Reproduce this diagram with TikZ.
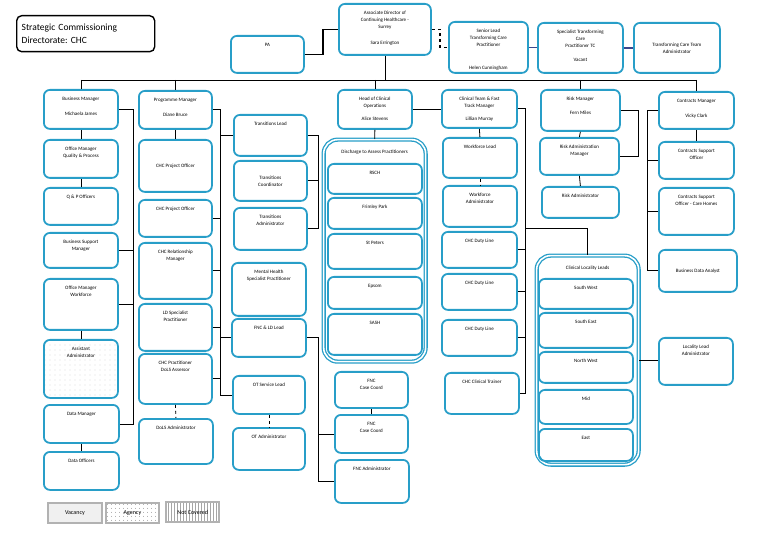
\documentclass[tikz,border=0pt]{standalone}
\usepackage{fontspec}
\setmainfont{Carlito}
\frenchspacing
\usetikzlibrary{patterns.meta, calc}
\definecolor{boxblue}{RGB}{40,158,200}
\definecolor{linkblue}{RGB}{60,70,140}

\begin{document}
\begin{tikzpicture}[x=1pt, y=-1pt,
    txt/.style={font=\fontsize{5}{7}\selectfont, align=center, inner sep=1pt},
    post/.style={draw=boxblue, line width=1.8pt, rounded corners=6pt, anchor=north west, txt},
    lab/.style={label={[txt, anchor=north, yshift=-7pt]north:#1}},
    hlab/.style={label={[txt, anchor=north, yshift=-10pt]north:#1}},
    group/.style={post, line width=1.3pt, double=white, double distance=1.6pt, rounded corners=14pt},
    agency/.style={pattern={Dots[distance=5pt, radius=0.4pt]}, pattern color=gray!80},
    link/.style={line width=0.8pt},
    key/.style={draw=gray!60, line width=1.8pt, anchor=north west, font=\fontsize{6}{7}\selectfont}]
    \useasboundingbox (0,0) rectangle (780,540);

    % Title
    \node[draw, line width=1.4pt, rounded corners=5pt, anchor=north west, minimum width=138pt, minimum height=36pt,
          align=left, text width=128pt, font=\fontsize{9.5}{13}\selectfont] (scd) at (16,15) {Strategic Commissioning\\Directorate: CHC};

    % Top row
    \node[post, minimum width=92pt, minimum height=51pt, lab={Associate Director of\\Continuing Healthcare -\\Surrey\\[9pt]Sara Errington}] (adir) at (338,3) {};
    \node[post, minimum width=73pt, minimum height=37pt, lab={PA}] (pa) at (230,35) {};
    \node[post, minimum width=79pt, minimum height=51pt, lab={Senior Lead\\Transforming Care\\Practitioner\\[16pt]Helen Cunningham}] (slead) at (448,21) {};
    \node[post, minimum width=85pt, minimum height=50pt, lab={Specialist Transforming\\Care\\Practitioner TC\\[7pt]Vacant}] (stcp) at (537,22) {};
    \node[post, minimum width=86pt, minimum height=50pt] (tcadmin) at (633,22) {Transforming Care Team\\Administrator};

    % Business column
    \node[post, minimum width=74pt, minimum height=39pt, lab={Business Manager\\[8pt]Michaela James}] (bman) at (43,89) {};
    \node[post, minimum width=74pt, minimum height=38pt, lab={Office Manager\\Quality \& Process}] (omqp) at (43,139) {};
    \node[post, minimum width=74pt, minimum height=37pt, lab={Q \& P Officers}] (qpo) at (43,187) {};
    \node[post, minimum width=74pt, minimum height=35pt, lab={Business Support\\Manager}] (bsm) at (43,232) {};
    \node[post, minimum width=74pt, minimum height=51pt, lab={Office Manager\\Workforce}] (omwf) at (43,278) {};
    \node[post, agency, minimum width=74pt, minimum height=58pt, lab={Assistant\\Administrator}] (asadmin) at (43,339) {};
    \node[post, minimum width=75pt, minimum height=38pt, lab={Data Manager}] (dman) at (43,404) {};
    \node[post, minimum width=75pt, minimum height=38pt, lab={Data Officers}] (doff) at (43,451) {};

    % Programme column
    \node[post, minimum width=73pt, minimum height=38pt, lab={Programme Manager\\[8pt]Diane Bruce}] (pman) at (138,90) {};
    \node[post, minimum width=73pt, minimum height=52pt] (cpo1) at (138,139) {CHC Project Officer};
    \node[post, minimum width=73pt, minimum height=37pt, lab={CHC Project Officer}] (cpo2) at (138,199) {};
    \node[post, minimum width=73pt, minimum height=56pt, lab={CHC Relationship\\Manager}] (crm) at (138,242) {};
    \node[post, minimum width=73pt, minimum height=47pt, lab={LD Specialist\\Practitioner}] (ldsp) at (138,303) {};
    \node[post, minimum width=73pt, minimum height=50pt, lab={CHC Practitioner\\DoLS Assessor}] (dolsa) at (138,353) {};
    \node[post, minimum width=74pt, minimum height=45pt, lab={DoLS Administrator}] (dolsadm) at (138,418) {};

    % Transitions column
    \node[post, minimum width=73pt, minimum height=41pt, lab={Transitions Lead}] (tlead) at (233,114) {};
    \node[post, minimum width=73pt, minimum height=40pt] (tcoord) at (233,160) {Transitions\\Coordinator};
    \node[post, minimum width=73pt, minimum height=42pt, lab={Transitions\\Administrator}] (tadmin) at (233,207) {};
    \node[post, minimum width=74pt, minimum height=53pt, lab={Mental Health\\Specialist Practitioner}] (mhsp) at (231,262) {};
    \node[post, minimum width=74pt, minimum height=38pt, lab={FNC \& LD Lead}] (fnclead) at (231,318) {};
    \node[post, minimum width=72pt, minimum height=38pt, lab={OT Service Lead}] (otlead) at (232,375) {};
    \node[post, minimum width=72pt, minimum height=42pt, lab={OT Administrator}] (otadmin) at (232,427) {};

    % Operations column
    \node[post, minimum width=74pt, minimum height=39pt, lab={Head of Clinical\\Operations\\[6pt]Alice Stevens}] (hoo) at (337,89) {};
    \node[group, minimum width=102pt, minimum height=222pt, hlab={Discharge to Assess Practitioners}] (dta) at (323,139) {};
    \node[post, minimum width=94pt, minimum height=30pt, lab={RSCH}] (rsch) at (327,163) {};
    \node[post, minimum width=94pt, minimum height=31pt, lab={Frimley Park}] (fpark) at (327,197) {};
    \node[post, minimum width=94pt, minimum height=35pt, lab={St Peters}] (stp) at (327,233) {};
    \node[post, minimum width=94pt, minimum height=32pt, lab={Epsom}] (epsom) at (327,276) {};
    \node[post, minimum width=94pt, minimum height=41pt, lab={SASH}] (sash) at (327,313) {};
    \node[post, minimum width=73pt, minimum height=36pt, lab={FNC\\Case Coord}] (fcc1) at (334,371) {};
    \node[post, minimum width=73pt, minimum height=38pt, lab={FNC\\Case Coord}] (fcc2) at (334,414) {};
    \node[post, minimum width=74pt, minimum height=43pt, lab={FNC Administrator}] (fncadm) at (334,459) {};

    % Clinical team column
    \node[post, minimum width=75pt, minimum height=38pt, lab={Clinical Team \& Fast\\Track Manager\\[6pt]Lillian Murray}] (ctm) at (441,89) {};
    \node[post, minimum width=74pt, minimum height=40pt, lab={Workforce Lead}] (wfl) at (442,137) {};
    \node[post, minimum width=74pt, minimum height=41pt, lab={Workforce\\Administrator}] (wfa) at (442,185) {};
    \node[post, minimum width=75pt, minimum height=36pt, lab={CHC Duty Line}] (duty1) at (441,231) {};
    \node[post, minimum width=75pt, minimum height=36pt, lab={CHC Duty Line}] (duty2) at (441,273) {};
    \node[post, minimum width=75pt, minimum height=36pt, lab={CHC Duty Line}] (duty3) at (441,319) {};
    \node[post, minimum width=74pt, minimum height=41pt, lab={CHC Clinical Trainer}] (ctrain) at (444,372) {};

    % Risk column
    \node[post, minimum width=79pt, minimum height=41pt, lab={Risk Manager\\[7pt]Fern Miles}] (rman) at (540,89) {};
    \node[post, minimum width=79pt, minimum height=37pt, lab={Risk Administration\\Manager}] (raman) at (539,137) {};
    \node[post, minimum width=77pt, minimum height=31pt, lab={Risk Administrator}] (radmin) at (541,186) {};
    \node[group, minimum width=102pt, minimum height=209pt, hlab={Clinical Locality Leads}] (cll) at (536,255) {};
    \node[post, minimum width=94pt, minimum height=30pt, lab={South West}] (sw) at (538,278) {};
    \node[post, minimum width=94pt, minimum height=35pt, lab={South East}] (se) at (538,312) {};
    \node[post, minimum width=94pt, minimum height=31pt, lab={North West}] (nw) at (538,351) {};
    \node[post, minimum width=94pt, minimum height=34pt, lab={Mid}] (mid) at (538,389) {};
    \node[post, minimum width=94pt, minimum height=32pt, lab={East}] (east) at (538,428) {};

    % Contracts column
    \node[post, minimum width=75pt, minimum height=37pt, lab={Contracts Manager\\[8pt]Vicky Clark}] (cman) at (658,91) {};
    \node[post, minimum width=75pt, minimum height=37pt, lab={Contracts Support\\Officer}] (cso) at (658,141) {};
    \node[post, minimum width=75pt, minimum height=47pt, lab={Contracts Support\\Officer - Care Homes}] (csoch) at (658,187) {};
    \node[post, minimum width=78pt, minimum height=42pt] (bda) at (658,249) {Business Data Analyst};
    \node[post, minimum width=74pt, minimum height=47pt, lab={Locality Lead\\Administrator}] (llad) at (658,337) {};

    % Key
    \node[key, fill=gray!12, minimum width=54pt, minimum height=20pt] (kvac) at (47,502) {Vacancy};
    \node[key, pattern={Dots[distance=4pt, radius=0.45pt]}, pattern color=black!70, minimum width=53pt, minimum height=20pt] (kag) at (105,502) {Agency};
    \node[key, pattern={Lines[angle=90, distance=3pt, line width=0.4pt]}, pattern color=gray!70, minimum width=53pt, minimum height=20pt] (knc) at (166,502) {Not Covered};

    % Top links
    \draw[line width=1.6pt] (pa.east) -- ++(18,0) |- (adir.west);
    \draw[line width=1.4pt, dashed] (adir.east) -- ++(8,0) |- (slead.west);
    \draw[line width=1.5pt, linkblue] (slead.east) -- (slead.east -| stcp.west);
    \draw[line width=1.5pt, linkblue] (stcp.east) -- (stcp.east -| tcadmin.west);

    % Main bus
    \coordinate (bus) at (0,80);
    \draw[link] (adir.south) -- (adir.south |- bus);
    \draw[link] (bman.north |- bus) -- (cman.north |- bus);
    \foreach \n in {bman, pman, hoo, rman, cman}
        \draw[link] (\n.north |- bus) -- (\n.north);

    % Business column links
    \draw[link] (bman.south) -- (omqp.north);
    \draw[link] (omqp.south) -- (qpo.north);
    \draw[link] (omwf.south) -- (asadmin.north);
    \draw[link] (dman.south) -- (doff.north);
    \coordinate (b1) at ([xshift=15pt]bman.east);
    \draw[link] (bman.east) -- (b1) |- (dman.east);
    \foreach \n in {bsm, omwf}
        \draw[link] (\n.east) -- (\n.east -| b1);

    % Programme column links
    \draw[link] (pman.south) -- (cpo1.north);
    \draw[link, dashed] (dolsa.south) -- (dolsadm.north);
    \coordinate (p1) at ([xshift=8pt]pman.east);
    \draw[link] (pman.east) -- (p1) |- (otlead.west);
    \foreach \n in {cpo2, crm, ldsp, dolsa}
        \draw[link] (\n.east) -- (\n.east -| p1);
    \draw[link] (p1 |- tlead.west) -- (tlead.west);
    \draw[link] (p1 |- fnclead.west) -- (fnclead.west);

    % Transitions and FNC links
    \coordinate (t1) at ([xshift=11pt]tlead.east);
    \draw[link] (tlead.east) -- (t1) |- (tadmin.east);
    \draw[link] (tcoord.east) -- (tcoord.east -| t1);
    \coordinate (f1) at ([xshift=12pt]fnclead.east);
    \draw[link] (fnclead.east) -- (f1) |- (fncadm.west);
    \draw[link] (fcc2.west) -- (fcc2.west -| f1);
    \draw[link] (fcc1.south) -- (fcc2.north);
    \draw[link, dashed] (otlead.south) -- (otadmin.north);

    % Operations links
    \draw[link] (hoo.east) -- (hoo.east -| ctm.west);
    \draw[link] (hoo.south) -- (dta.north);

    % Clinical team links
    \draw[link] (ctm.south) -- (wfl.north);
    \draw[link, dashed] (wfl.south) -- (wfa.north);
    \coordinate (c1) at ([xshift=8pt]ctm.east);
    \draw[link] (ctm.east) -- (c1) |- (ctrain.east);
    \foreach \n in {duty1, duty2, duty3}
        \draw[link] (\n.east) -- (\n.east -| c1);
    \coordinate (c2) at ([yshift=-120pt]c1);
    \draw[link] (c2) -| (cll.north);

    % Risk links
    \draw[link] (rman.south) -- (raman.north);
    \draw[link] (raman.south) -- (radmin.north);
    \coordinate (r1) at ([xshift=18pt]rman.east);
    \draw[link] (rman.east) -- (r1) |- (raman.east);
    \draw[link] (cll.east) -- (cll.east -| llad.west);

    % Contracts links
    \draw[link] (cman.south) -- (cso.north);
    \coordinate (k1) at ([xshift=-11pt]cman.west);
    \draw[link] (cman.west) -- (k1) |- (bda.west);
    \foreach \n in {cso, csoch}
        \draw[link] (\n.west) -- (\n.west -| k1);
\end{tikzpicture}
\end{document}
